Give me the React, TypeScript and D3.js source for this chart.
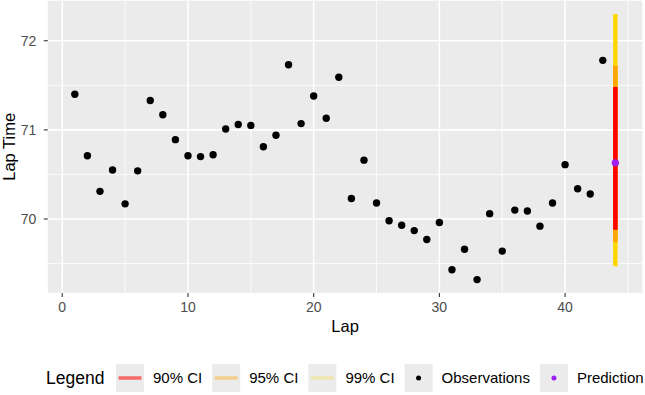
import React, { useMemo } from 'react';
import * as d3 from 'd3';

// observed lap times
const laps = [1, 2, 3, 4, 5, 6, 7, 8, 9, 10, 11, 12, 13, 14, 15, 16, 17, 18, 19, 20, 21, 22,
  23, 24, 25, 26, 27, 28, 29, 30, 31, 32, 33, 34, 35, 36, 37, 38, 39, 40, 41, 42, 43];
const lapTimes = [71.40, 70.71, 70.31, 70.55, 70.17, 70.54, 71.33, 71.17, 70.89, 70.71, 70.70,
  70.72, 71.01, 71.06, 71.05, 70.81, 70.94, 71.73, 71.07, 71.38, 71.13, 71.59, 70.23, 70.66,
  70.18, 69.98, 69.93, 69.87, 69.77, 69.96, 69.43, 69.66, 69.32, 70.06, 69.64, 70.10, 70.09,
  69.92, 70.18, 70.61, 70.34, 70.28, 71.78];

// prediction for next lap + intervals
const predLap = 44;
const predTime = 70.63;
const ciLevels = ['99% CI', '95% CI', '90% CI'];
const ciLow = [69.47, 69.74, 69.88];
const ciHigh = [72.30, 71.72, 71.48];
const ciColors = ['#FFD700', '#FFA500', '#FF0000'];
const ciLegendAlpha = [0.25, 0.4, 0.55];

const xTicks = [0, 10, 20, 30, 40];
const xMinor = [5, 15, 25, 35, 45];
const yTicks = [70, 71, 72];
const yMinor = [69.5, 70.5, 71.5];

const legendLabels = ['90% CI', '95% CI', '99% CI', 'Observations', 'Prediction'];

const W = 645;
const H = 395;
const panel = { left: 47.8, right: 642.4, top: 0.7, bottom: 292.9 };
const FONT = "'Liberation Sans', Arial, Helvetica, sans-serif";

function measure(text: string, size: number) {
  const c = document.createElement('canvas').getContext('2d');
  if (!c) return text.length * size * 0.55;
  c.font = `${size}px ${FONT}`;
  return c.measureText(text).width;
}

export default function App() {
  const allY = [...lapTimes, ...ciLow, ...ciHigh];
  const yExt = d3.extent(allY) as [number, number];
  const yPad = (yExt[1] - yExt[0]) * 0.05;
  const y = d3.scaleLinear().domain([yExt[0] - yPad, yExt[1] + yPad]).range([panel.bottom, panel.top]);

  const xExt = [d3.min(laps) as number, predLap];
  const xPad = (xExt[1] - xExt[0]) * 0.05;
  const x = d3.scaleLinear().domain([xExt[0] - xPad, xExt[1] + xPad]).range([panel.left, panel.right]);

  // legend layout
  const legend = useMemo(() => {
    const keyW = 28;
    let cx = 116;
    return legendLabels.map((label) => {
      const item = { label, keyX: cx, textX: cx + keyW + 9 };
      cx = item.textX + measure(label, 15) + 10;
      return item;
    });
  }, []);
  const keyY = 364;
  const keyH = 28;
  const keyMid = keyY + keyH / 2;

  return (
    <svg width={W} height={H} style={{ position: 'absolute', left: 0, top: 0, background: '#fff' }}
      fontFamily={FONT}>
      <rect x={panel.left} y={panel.top} width={panel.right - panel.left}
        height={panel.bottom - panel.top} fill="#EBEBEB" />
      {/* minor grid */}
      {yMinor.map(v => (
        <line key={'ym' + v} x1={panel.left} x2={panel.right} y1={y(v)} y2={y(v)} stroke="#fff" strokeWidth={0.8} />
      ))}
      {xMinor.map(v => (
        <line key={'xm' + v} y1={panel.top} y2={panel.bottom} x1={x(v)} x2={x(v)} stroke="#fff" strokeWidth={0.8} />
      ))}
      {/* major grid */}
      {yTicks.map(v => (
        <line key={'yg' + v} x1={panel.left} x2={panel.right} y1={y(v)} y2={y(v)} stroke="#fff" strokeWidth={1.6} />
      ))}
      {xTicks.map(v => (
        <line key={'xg' + v} y1={panel.top} y2={panel.bottom} x1={x(v)} x2={x(v)} stroke="#fff" strokeWidth={1.6} />
      ))}

      {/* interval bars */}
      {ciLevels.map((lvl, i) => (
        <line key={lvl} x1={x(predLap)} x2={x(predLap)} y1={y(ciLow[i])} y2={y(ciHigh[i])}
          stroke={ciColors[i]} strokeWidth={4.5} />
      ))}

      {/* observations */}
      {laps.map((l, i) => (
        <circle key={l} cx={x(l)} cy={y(lapTimes[i])} r={3.7} fill="#000" />
      ))}
      <circle cx={x(predLap)} cy={y(predTime)} r={3.7} fill="#A020F0" />

      {/* axes */}
      {yTicks.map(v => (
        <g key={'yt' + v}>
          <line x1={panel.left - 4} x2={panel.left} y1={y(v)} y2={y(v)} stroke="#333" strokeWidth={1.1} />
          <text x={panel.left - 11.5} y={y(v)} dy="0.36em" textAnchor="end" fontSize={14} fill="#4D4D4D">{v}</text>
        </g>
      ))}
      {xTicks.map(v => (
        <g key={'xt' + v}>
          <line x1={x(v)} x2={x(v)} y1={panel.bottom} y2={panel.bottom + 4} stroke="#333" strokeWidth={1.1} />
          <text x={x(v)} y={312.3} textAnchor="middle" fontSize={14} fill="#4D4D4D">{v}</text>
        </g>
      ))}
      <text x={(panel.left + panel.right) / 2} y={332} textAnchor="middle" fontSize={16.5} fill="#000">Lap</text>
      <text transform={`translate(15,${(panel.top + panel.bottom) / 2}) rotate(-90)`} textAnchor="middle"
        fontSize={16.5} fill="#000">Lap Time</text>

      {/* legend */}
      <text x={46} y={keyMid} dy="0.36em" fontSize={17.5} fill="#000">Legend</text>
      {legend.map((item, i) => (
        <g key={item.label}>
          <rect x={item.keyX} y={keyY} width={28} height={keyH} fill="#EBEBEB" />
          {i < 3 && (
            <line x1={item.keyX + 2.5} x2={item.keyX + 25.5} y1={keyMid} y2={keyMid}
              stroke={ciColors[2 - i]} strokeOpacity={ciLegendAlpha[2 - i]} strokeWidth={3.5} />
          )}
          {i === 3 && <circle cx={item.keyX + 14} cy={keyMid} r={2.5} fill="#000" />}
          {i === 4 && <circle cx={item.keyX + 14} cy={keyMid} r={2.5} fill="#A020F0" />}
          <text x={item.textX} y={keyMid} dy="0.36em" fontSize={15} fill="#000">{item.label}</text>
        </g>
      ))}
    </svg>
  );
}
